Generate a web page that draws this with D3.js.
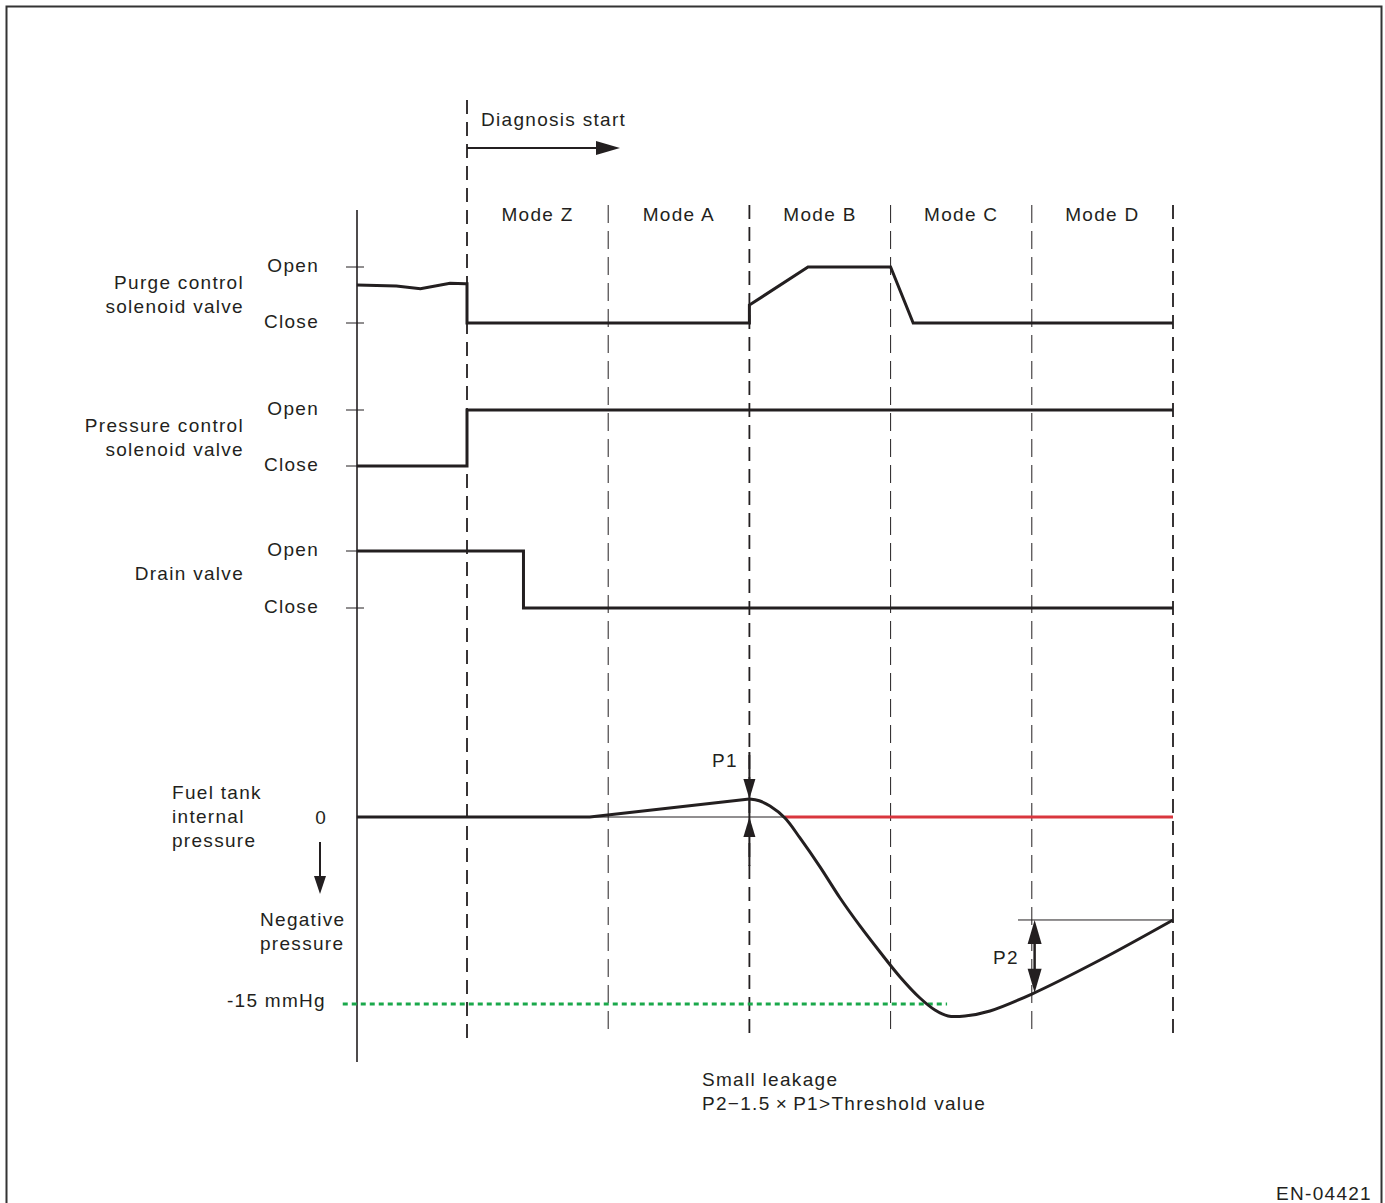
<!DOCTYPE html>
<html>
<head>
<meta charset="utf-8">
<script src="https://cdn.jsdelivr.net/npm/d3@7"></script>
<style>
  body { margin: 0; background: #fff; }
  text { font-family: "Liberation Sans", Arial, sans-serif; font-size: 19px; letter-spacing: 1.3px; fill: #231f20; }
</style>
</head>
<body>
<div id="chart"></div>
<script>
// time is in "mode" units: 0 = diagnosis start, each mode lasts 1
var modes = ["Mode Z", "Mode A", "Mode B", "Mode C", "Mode D"];
var modeBounds = [0, 1, 2, 3, 4, 5];
var boldBounds = [0, 2, 5];

// valve positions: 0 = Close, 1 = Open
var purgeValve = [[-0.78, 0.68], [-0.5, 0.66], [-0.33, 0.61], [-0.12, 0.71], [-0.01, 0.7], [0, 0.7], [0, 0], [2, 0], [2, 0.32], [2.415, 1], [3, 1], [3.16, 0], [5, 0]];
var pressureValve = [[-0.78, 0], [0, 0], [0, 1], [5, 1]];
var drainValve = [[-0.78, 1], [0.4, 1], [0.4, 0], [5, 0]];

// fuel tank internal pressure, mmHg
var tankFlat = [[-0.78, 0], [0.87, 0], [2.0, 1.44]];
var tankPressure = [[1.9, 1.36], [2.0, 1.44], [2.07, 1.3], [2.146, 0.88], [2.252, -0.08], [2.358, -1.68], [2.5, -4.0],
  [2.642, -6.5], [2.783, -8.74], [2.925, -10.83], [3.067, -12.83], [3.208, -14.52], [3.314, -15.48], [3.407, -15.96],
  [3.527, -15.96], [3.704, -15.56], [4.0, -14.2], [4.483, -11.47], [5.0, -8.26]];
var normalLine = [[2.25, 0], [5, 0]];
var limitLine = [[-0.88, -15], [3.4, -15]];
var p1At = [2.0, 1.44];
var p2At = [4.02, -8.26, -14.1];

var width = 1385, height = 1203;

var svg = d3.select("#chart").append("svg")
    .attr("width", width)
    .attr("height", height);

svg.append("rect")
    .attr("x", 6.5).attr("y", 6.5)
    .attr("width", 1375).attr("height", 1210)
    .attr("fill", "none").attr("stroke", "#333").attr("stroke-width", 2);

var x = d3.scaleLinear().domain([0, 5]).range([467, 1173]);

var rows = [
  {name: ["Purge control", "solenoid valve"], data: purgeValve, y: d3.scaleLinear().domain([0, 1]).range([323, 267])},
  {name: ["Pressure control", "solenoid valve"], data: pressureValve, y: d3.scaleLinear().domain([0, 1]).range([466, 410])},
  {name: ["Drain valve"], data: drainValve, y: d3.scaleLinear().domain([0, 1]).range([608, 551])}
];

var yP = d3.scaleLinear().domain([0, -15]).range([817, 1004]);

var ink = "#231f20";

// mode divider lines
svg.selectAll(".bound")
  .data(modeBounds)
  .enter().append("line")
    .attr("x1", function (d) { return x(d); })
    .attr("x2", function (d) { return x(d); })
    .attr("y1", function (d) { return d === 0 ? 100 : 205; })
    .attr("y2", function (d) { return d === 0 ? 1040 : 1036; })
    .attr("stroke", ink)
    .attr("stroke-width", function (d) { return boldBounds.indexOf(d) >= 0 ? 1.8 : 1; })
    .attr("stroke-dasharray", function (d) { return boldBounds.indexOf(d) >= 0 ? "14,8" : "18,8"; });

svg.selectAll(".mode")
  .data(modes)
  .enter().append("text")
    .attr("x", function (d, i) { return x(i + 0.5); })
    .attr("y", 221)
    .attr("text-anchor", "middle")
    .text(function (d) { return d; });

// diagnosis start
svg.append("text").attr("x", 481).attr("y", 126).text("Diagnosis start");
svg.append("line").attr("x1", x(0)).attr("x2", 600).attr("y1", 148).attr("y2", 148)
    .attr("stroke", ink).attr("stroke-width", 2);
svg.append("path").attr("d", "M596,141L620,148L596,155Z").attr("fill", ink);

// vertical axis
svg.append("line").attr("x1", 357).attr("x2", 357).attr("y1", 210).attr("y2", 1062)
    .attr("stroke", ink).attr("stroke-width", 1.6);

var line = d3.line()
    .x(function (d) { return x(d[0]); });

rows.forEach(function (r) {
  [0, 1].forEach(function (v) {
    svg.append("line")
        .attr("x1", 346).attr("x2", 364)
        .attr("y1", r.y(v)).attr("y2", r.y(v))
        .attr("stroke", ink).attr("stroke-width", 1);
    svg.append("text")
        .attr("x", 319).attr("y", r.y(v) + 5)
        .attr("text-anchor", "end")
        .text(v ? "Open" : "Close");
  });
  var mid = (r.y(0) + r.y(1)) / 2;
  r.name.forEach(function (n, i) {
    svg.append("text")
        .attr("x", 244)
        .attr("y", mid + (r.name.length > 1 ? 6 : 0) + (i - (r.name.length - 1) / 2) * 24)
        .attr("text-anchor", "end")
        .text(n);
  });
  svg.append("path")
      .datum(r.data)
      .attr("d", line.y(function (d) { return r.y(d[1]); }))
      .attr("fill", "none")
      .attr("stroke", ink)
      .attr("stroke-width", 3);
});

// fuel tank pressure panel
svg.append("line").attr("x1", 357).attr("x2", x(2.25)).attr("y1", yP(0)).attr("y2", yP(0))
    .attr("stroke", ink).attr("stroke-width", 1);

svg.append("path")
    .datum(normalLine)
    .attr("d", d3.line().x(function (d) { return x(d[0]); }).y(function (d) { return yP(d[1]); }))
    .attr("fill", "none").attr("stroke", "#d9363e").attr("stroke-width", 3);

svg.append("path")
    .datum(limitLine)
    .attr("d", d3.line().x(function (d) { return x(d[0]); }).y(function (d) { return yP(d[1]); }))
    .attr("fill", "none").attr("stroke", "#1aa84b").attr("stroke-width", 3)
    .attr("stroke-dasharray", "5,4");

svg.append("path")
    .datum(tankFlat)
    .attr("d", d3.line().x(function (d) { return x(d[0]); }).y(function (d) { return yP(d[1]); }))
    .attr("fill", "none").attr("stroke", ink).attr("stroke-width", 3);

svg.append("path")
    .datum(tankPressure.slice(1))
    .attr("d", d3.line().curve(d3.curveCatmullRom.alpha(0.5))
      .x(function (d) { return x(d[0]); }).y(function (d) { return yP(d[1]); }))
    .attr("fill", "none").attr("stroke", ink).attr("stroke-width", 3);

svg.append("text").attr("x", 172).attr("y", 799).text("Fuel tank");
svg.append("text").attr("x", 172).attr("y", 823).text("internal");
svg.append("text").attr("x", 172).attr("y", 847).text("pressure");
svg.append("text").attr("x", 327).attr("y", yP(0) + 7).attr("text-anchor", "end").text("0");
svg.append("line").attr("x1", 320).attr("x2", 320).attr("y1", 842).attr("y2", 878)
    .attr("stroke", ink).attr("stroke-width", 2);
svg.append("path").attr("d", "M314,876L320,894L326,876Z").attr("fill", ink);
svg.append("text").attr("x", 260).attr("y", 926).text("Negative");
svg.append("text").attr("x", 260).attr("y", 950).text("pressure");
svg.append("text").attr("x", 326).attr("y", yP(-15) + 3).attr("text-anchor", "end").text("-15 mmHg");

// P1 marker
var p1x = x(p1At[0]), p1y = yP(p1At[1]);
svg.append("line").attr("x1", p1x).attr("x2", p1x).attr("y1", 752).attr("y2", 866)
    .attr("stroke", ink).attr("stroke-width", 2);
svg.append("path").attr("d", "M" + (p1x - 6) + "," + (p1y - 20) + "L" + p1x + "," + p1y + "L" + (p1x + 6) + "," + (p1y - 20) + "Z").attr("fill", ink);
svg.append("path").attr("d", "M" + (p1x - 6) + "," + (yP(0) + 20) + "L" + p1x + "," + yP(0) + "L" + (p1x + 6) + "," + (yP(0) + 20) + "Z").attr("fill", ink);
svg.append("text").attr("x", 712).attr("y", 767).text("P1");

// P2 marker
var p2x = x(p2At[0]), p2top = yP(p2At[1]), p2bot = yP(p2At[2]);
svg.append("line").attr("x1", 1018).attr("x2", x(5)).attr("y1", p2top).attr("y2", p2top)
    .attr("stroke", ink).attr("stroke-width", 1);
svg.append("line").attr("x1", p2x).attr("x2", p2x).attr("y1", p2top + 10).attr("y2", p2bot - 10)
    .attr("stroke", ink).attr("stroke-width", 2.5);
svg.append("path").attr("d", "M" + (p2x - 7) + "," + (p2top + 24) + "L" + p2x + "," + p2top + "L" + (p2x + 7) + "," + (p2top + 24) + "Z").attr("fill", ink);
svg.append("path").attr("d", "M" + (p2x - 7) + "," + (p2bot - 24) + "L" + p2x + "," + p2bot + "L" + (p2x + 7) + "," + (p2bot - 24) + "Z").attr("fill", ink);
svg.append("text").attr("x", 993).attr("y", 964).text("P2");

// footnote
svg.append("text").attr("x", 702).attr("y", 1086).text("Small leakage");
svg.append("text").attr("x", 702).attr("y", 1110).text("P2\u22121.5\u2009\u00d7\u2009P1>Threshold value");
svg.append("text").attr("x", 1372).attr("y", 1200).attr("text-anchor", "end").text("EN-04421");
</script>
</body>
</html>
